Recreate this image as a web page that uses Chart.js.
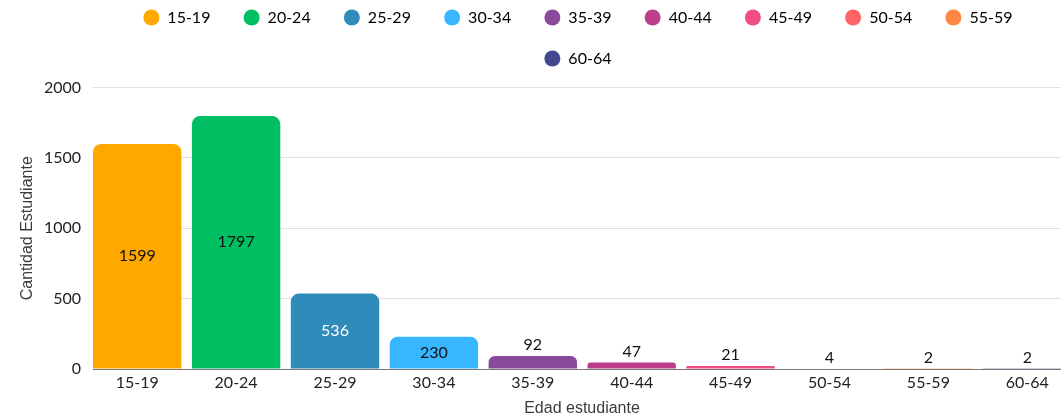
<!DOCTYPE html>
<html>
<head>
<meta charset="utf-8">
<script src="https://cdn.jsdelivr.net/npm/chart.js@4/dist/chart.umd.min.js"></script>
<style>
  html, body { margin: 0; padding: 0; overflow: hidden; background: #fff; }
  #wrap { width: 1071px; height: 418px; }
</style>
</head>
<body>
<div id="wrap"><canvas id="edades"></canvas></div>
<script>
const categories = ['15-19', '20-24', '25-29', '30-34', '35-39', '40-44', '45-49', '50-54', '55-59', '60-64'];
const values = [1599, 1797, 536, 230, 92, 47, 21, 4, 2, 2];
const yTicks = [0, 500, 1000, 1500, 2000];

const colors = ['#FFA900', '#00BF63', '#2E8BBA', '#38B6FF', '#8A4A9C', '#BD3F8C', '#EE4E80', '#FF6464', '#FF8743', '#434890'];
const labelColors = ['#111', '#111', '#fff', '#111', '#111', '#111', '#111', '#111', '#111', '#111'];

Chart.defaults.font.family = 'Lato';
Chart.defaults.color = '#222';

// numbers on / above each bar
const barLabels = {
  id: 'barLabels',
  afterDatasetsDraw(chart) {
    const ctx = chart.ctx;
    const bars = chart.getDatasetMeta(0).data;
    ctx.save();
    ctx.font = '16px Lato';
    ctx.textAlign = 'center';
    ctx.textBaseline = 'middle';
    bars.forEach((bar, i) => {
      const h = bar.base - bar.y;
      if (h > 28) {
        ctx.fillStyle = labelColors[i];
        ctx.fillText(values[i], bar.x, (bar.y + bar.base) / 2);
      } else {
        ctx.fillStyle = '#111';
        ctx.fillText(values[i], bar.x, bar.y - 11);
      }
    });
    ctx.restore();
  }
};

// legend sits a bit higher than chart.js puts it
const legendNudge = {
  id: 'legendNudge',
  afterLayout(chart) {
    chart.legend.top -= 11;
    chart.legend.bottom -= 11;
  }
};

new Chart(document.getElementById('edades'), {
  type: 'bar',
  data: {
    datasets: [{
      label: 'Cantidad Estudiante',
      data: values.map((v, i) => ({ x: i, y: v })),
      backgroundColor: colors,
      borderRadius: 8,
      borderSkipped: 'start',
      barPercentage: 0.894,
      categoryPercentage: 1
    }]
  },
  options: {
    responsive: true,
    maintainAspectRatio: false,
    animation: false,
    layout: { padding: { top: -4.5, left: 0, right: 0, bottom: 0 } },
    plugins: {
      tooltip: { enabled: false },
      legend: {
        position: 'top',
        fullSize: false,
        labels: {
          usePointStyle: true,
          boxWidth: 16,
          boxHeight: 11.3,
          padding: 25,
          color: '#222',
          font: { size: 16 },
          generateLabels: () => categories.map((c, i) => ({
            text: c + '  ',
            fillStyle: colors[i],
            strokeStyle: colors[i],
            lineWidth: 0,
            pointStyle: 'circle',
            hidden: false,
            index: i
          }))
        }
      }
    },
    scales: {
      x: {
        type: 'linear',
        min: -0.447,
        max: 9.442,
        offset: false,
        grid: { display: false, drawTicks: false },
        border: { display: true, color: '#777', width: 1 },
        afterBuildTicks: s => { s.ticks = categories.map((c, i) => ({ value: i })); },
        afterFit: s => { s.height = 49; },
        ticks: {
          padding: 4,
          color: '#222',
          font: { size: 16 },
          callback: v => categories[v]
        },
        title: {
          display: true,
          text: 'Edad estudiante',
          color: '#373d3f',
          font: { family: 'Liberation Sans', size: 16 },
          padding: { top: 4, bottom: 0 }
        }
      },
      y: {
        min: 0,
        max: 2000,
        grid: { color: '#e0e0e0', drawTicks: false },
        border: { display: false },
        afterBuildTicks: s => { s.ticks = yTicks.map(v => ({ value: v })); },
        afterFit: s => { s.width = 93; },
        ticks: {
          padding: 12,
          color: '#222',
          font: { size: 16 },
          callback: v => String(v)
        },
        title: {
          display: true,
          text: 'Cantidad Estudiante',
          color: '#373d3f',
          font: { family: 'Liberation Sans', size: 16 },
          padding: { top: 18, bottom: 0 }
        }
      }
    }
  },
  plugins: [barLabels, legendNudge]
});
</script>
</body>
</html>
